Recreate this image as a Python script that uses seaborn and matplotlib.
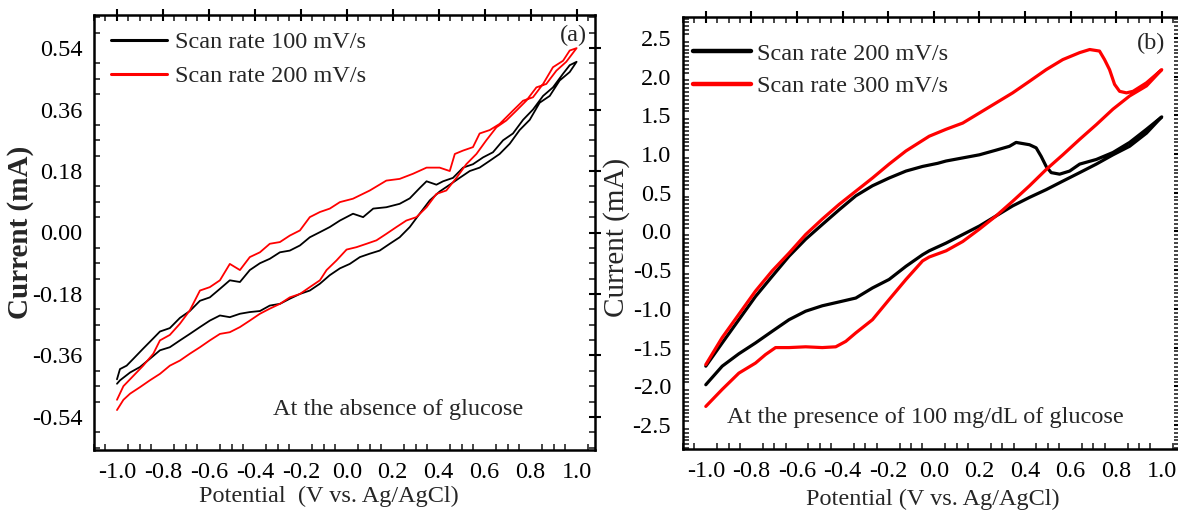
import numpy as np
import pandas as pd
import matplotlib
matplotlib.use("Agg")
import matplotlib.pyplot as plt
from matplotlib.ticker import AutoMinorLocator, FormatStrFormatter, FixedLocator
import seaborn as sns

# ---------------- data: panel (a), no glucose ----------------
a100_fwd_v = [-1.0, -0.987, -0.958, -0.929, -0.886, -0.842, -0.813, -0.77, -0.726, -0.683, -0.639,
              -0.596, -0.552, -0.509, -0.465, -0.422, -0.378, -0.335, -0.291, -0.248, -0.204, -0.161,
              -0.117, -0.074, -0.03, 0.027, 0.071, 0.115, 0.172, 0.23, 0.274, 0.317, 0.347, 0.39,
              0.419, 0.462, 0.506, 0.549, 0.593, 0.636, 0.68, 0.723, 0.767, 0.81, 0.854, 0.897,
              0.941, 0.97, 1.0]
a100_fwd_i = [-0.43, -0.40, -0.39, -0.37, -0.34, -0.31, -0.29, -0.28, -0.25, -0.23, -0.20,
              -0.19, -0.165, -0.14, -0.145, -0.11, -0.09, -0.077, -0.058, -0.053, -0.038, -0.014,
              0.001, 0.016, 0.035, 0.055, 0.045, 0.07, 0.074, 0.084, 0.10, 0.13, 0.15, 0.14,
              0.15, 0.16, 0.19, 0.20, 0.22, 0.235, 0.27, 0.29, 0.33, 0.36, 0.40, 0.425,
              0.465, 0.49, 0.50]
a100_rev_v = [1.0, 0.97, 0.926, 0.883, 0.839, 0.796, 0.752, 0.709, 0.665, 0.622, 0.578, 0.535,
              0.491, 0.448, 0.404, 0.361, 0.317, 0.274, 0.23, 0.187, 0.143, 0.1, 0.057, 0.013,
              -0.03, -0.074, -0.117, -0.161, -0.204, -0.248, -0.291, -0.335, -0.378, -0.422,
              -0.465, -0.509, -0.552, -0.596, -0.639, -0.683, -0.726, -0.77, -0.813, -0.857,
              -0.9, -0.943, -0.987, -1.0]
a100_rev_i = [0.50, 0.47, 0.445, 0.40, 0.38, 0.33, 0.30, 0.26, 0.23, 0.21, 0.19, 0.18,
              0.16, 0.14, 0.12, 0.094, 0.055, 0.016, -0.014, -0.033, -0.053, -0.062, -0.072, -0.092,
              -0.105, -0.125, -0.15, -0.17, -0.18, -0.194, -0.209, -0.214, -0.23, -0.233,
              -0.238, -0.248, -0.243, -0.258, -0.277, -0.297, -0.316, -0.336, -0.345, -0.37,
              -0.394, -0.41, -0.433, -0.443]

a200_fwd_v = [-1.0, -0.972, -0.929, -0.886, -0.842, -0.813, -0.77, -0.726, -0.683, -0.639, -0.596,
              -0.552, -0.509, -0.465, -0.422, -0.378, -0.335, -0.291, -0.248, -0.204, -0.161,
              -0.117, -0.074, -0.03, 0.027, 0.1, 0.172, 0.23, 0.288, 0.347, 0.404, 0.448, 0.47,
              0.506, 0.549, 0.578, 0.622, 0.665, 0.723, 0.767, 0.81, 0.854, 0.897, 0.941, 0.97, 1.0]
a200_fwd_i = [-0.49, -0.45, -0.42, -0.39, -0.355, -0.316, -0.30, -0.267, -0.228, -0.17, -0.16,
              -0.14, -0.092, -0.11, -0.072, -0.058, -0.033, -0.028, -0.009, 0.006, 0.045,
              0.06, 0.07, 0.089, 0.099, 0.123, 0.152, 0.157, 0.172, 0.19, 0.19, 0.18, 0.23,
              0.24, 0.25, 0.29, 0.30, 0.318, 0.357, 0.386, 0.396, 0.435, 0.484, 0.503, 0.533, 0.54]
a200_rev_v = [1.0, 0.955, 0.912, 0.868, 0.825, 0.781, 0.738, 0.694, 0.651, 0.607, 0.564, 0.52,
              0.477, 0.433, 0.39, 0.347, 0.303, 0.259, 0.216, 0.172, 0.129, 0.086, 0.042, -0.001,
              -0.045, -0.088, -0.117, -0.161, -0.204, -0.248, -0.291, -0.335, -0.378, -0.422,
              -0.465, -0.509, -0.552, -0.596, -0.639, -0.683, -0.726, -0.77, -0.813, -0.857,
              -0.9, -0.943, -0.972, -1.0]
a200_rev_i = [0.54, 0.50, 0.474, 0.435, 0.425, 0.386, 0.357, 0.328, 0.308, 0.27, 0.23, 0.20,
              0.16, 0.123, 0.113, 0.074, 0.045, 0.035, 0.016, -0.004, -0.023, -0.033, -0.043, -0.05,
              -0.082, -0.11, -0.14, -0.16, -0.18, -0.19, -0.209, -0.223, -0.238, -0.258,
              -0.277, -0.292, -0.297, -0.316, -0.336, -0.355, -0.375, -0.39, -0.414, -0.433,
              -0.453, -0.472, -0.49, -0.52]

# ---------------- data: panel (b), 100 mg/dL glucose ----------------
b200_fwd_v = [-1.0, -0.928, -0.855, -0.782, -0.709, -0.635, -0.562, -0.489, -0.415, -0.342,
              -0.269, -0.196, -0.122, -0.049, 0.017, 0.054, 0.127, 0.2, 0.273, 0.332, 0.361,
              0.42, 0.449, 0.471, 0.493, 0.515, 0.552, 0.596, 0.64, 0.713, 0.786, 0.859, 0.933, 1.0]
b200_fwd_i = [-1.74, -1.44, -1.14, -0.84, -0.58, -0.32, -0.10, 0.09, 0.28, 0.46,
              0.59, 0.69, 0.78, 0.84, 0.88, 0.91, 0.95, 0.99, 1.05, 1.10, 1.15,
              1.12, 1.08, 0.97, 0.84, 0.76, 0.74, 0.78, 0.87, 0.93, 1.02, 1.15, 1.32, 1.48]
b200_rev_v = [1.0, 0.933, 0.859, 0.786, 0.713, 0.64, 0.566, 0.493, 0.42, 0.346, 0.273, 0.2,
              0.127, 0.054, -0.02, -0.049, -0.122, -0.196, -0.269, -0.342, -0.415, -0.489,
              -0.562, -0.635, -0.709, -0.782, -0.855, -0.928, -1.0]
b200_rev_i = [1.48, 1.27, 1.10, 0.99, 0.87, 0.76, 0.65, 0.54, 0.44, 0.33, 0.20, 0.07,
              -0.04, -0.15, -0.25, -0.30, -0.45, -0.62, -0.73, -0.86, -0.91, -0.96,
              -1.03, -1.14, -1.29, -1.44, -1.58, -1.74, -1.98]

b300_fwd_v = [-1.0, -0.928, -0.855, -0.782, -0.709, -0.635, -0.562, -0.489, -0.415, -0.342,
              -0.269, -0.196, -0.122, -0.02, 0.054, 0.127, 0.2, 0.273, 0.346, 0.42, 0.493,
              0.566, 0.64, 0.684, 0.727, 0.749, 0.771, 0.793, 0.815, 0.845, 0.874, 0.933, 1.0]
b300_fwd_i = [-1.72, -1.37, -1.07, -0.77, -0.51, -0.28, -0.04, 0.16, 0.35, 0.52,
              0.69, 0.87, 1.04, 1.23, 1.32, 1.40, 1.53, 1.66, 1.79, 1.94, 2.09,
              2.22, 2.31, 2.35, 2.33, 2.22, 2.09, 1.90, 1.81, 1.79, 1.81, 1.92, 2.09]
b300_rev_v = [1.0, 0.933, 0.859, 0.786, 0.713, 0.64, 0.566, 0.493, 0.42, 0.346, 0.273, 0.2,
              0.127, 0.054, -0.02, -0.049, -0.122, -0.196, -0.269, -0.342, -0.386, -0.43,
              -0.489, -0.562, -0.635, -0.694, -0.738, -0.782, -0.855, -0.928, -1.0]
b300_rev_i = [2.09, 1.88, 1.75, 1.58, 1.38, 1.19, 0.99, 0.80, 0.59, 0.39, 0.20, 0.03,
              -0.13, -0.25, -0.33, -0.38, -0.62, -0.88, -1.14, -1.31, -1.42, -1.49,
              -1.50, -1.49, -1.50, -1.50, -1.59, -1.70, -1.83, -2.04, -2.26]

labels_a = ["Scan rate 100 mV/s", "Scan rate 200 mV/s"]
labels_b = ["Scan rate 200 mV/s", "Scan rate 300 mV/s"]
x_ticks = [-1.0, -0.8, -0.6, -0.4, -0.2, 0.0, 0.2, 0.4, 0.6, 0.8, 1.0]
y_ticks_a = [-0.54, -0.36, -0.18, 0.0, 0.18, 0.36, 0.54]
y_ticks_b = [-2.5, -2.0, -1.5, -1.0, -0.5, 0.0, 0.5, 1.0, 1.5, 2.0, 2.5]


def loop_frame(names, branches):
    """Join forward and reverse sweeps of each scan into one ordered loop."""
    rows = []
    for name, (fv, fi, rv, ri) in zip(names, branches):
        v = list(fv) + list(rv)
        i = list(fi) + list(ri)
        rows.append(pd.DataFrame({"Potential": v, "Current": i, "Scan": name}))
    return pd.concat(rows, ignore_index=True)


df_a = loop_frame(labels_a, [(a100_fwd_v, a100_fwd_i, a100_rev_v, a100_rev_i),
                             (a200_fwd_v, a200_fwd_i, a200_rev_v, a200_rev_i)])
df_b = loop_frame(labels_b, [(b200_fwd_v, b200_fwd_i, b200_rev_v, b200_rev_i),
                             (b300_fwd_v, b300_fwd_i, b300_rev_v, b300_rev_i)])

sns.set_style("white")
plt.rcParams["font.family"] = ["Liberation Serif", "DejaVu Serif"]
plt.rcParams["axes.unicode_minus"] = False
FS = 17.5
FS_YLAB = 21

fig = plt.figure(figsize=(11.78, 5.14), dpi=100)
W, H = 1178, 514
ax_a = fig.add_axes([94 / W, 1 - 450 / H, 501 / W, 435 / H])
ax_b = fig.add_axes([683 / W, 1 - 449 / H, 497 / W, 432 / H])

sns.lineplot(data=df_a, x="Potential", y="Current", hue="Scan", units="Scan",
             estimator=None, sort=False, palette=["black", "#ff0000"],
             linewidth=1.3, ax=ax_a)
sns.lineplot(data=df_b, x="Potential", y="Current", hue="Scan", units="Scan",
             estimator=None, sort=False, palette=["black", "#ff0000"],
             linewidth=2.3, ax=ax_b)


def style_axes(ax, yticks, ylim, yfmt, ysub):
    ax.set_xlim(-1.1, 1.08)
    ax.set_ylim(*ylim)
    ax.xaxis.set_major_locator(FixedLocator(x_ticks))
    ax.yaxis.set_major_locator(FixedLocator(yticks))
    ax.xaxis.set_major_formatter(FormatStrFormatter("%.1f"))
    ax.yaxis.set_major_formatter(FormatStrFormatter(yfmt))
    ax.xaxis.set_minor_locator(AutoMinorLocator(4))
    ax.yaxis.set_minor_locator(AutoMinorLocator(ysub))
    ax.tick_params(which="major", direction="inout", length=9, width=1.5,
                   top=True, right=True, labelsize=FS, colors="black", pad=4)
    ax.tick_params(which="minor", direction="in", length=4, width=1.2,
                   top=True, right=True, left=True, bottom=True)
    for s in ax.spines.values():
        s.set_visible(True)
        s.set_linewidth(1.8)
        s.set_color("black")
    ax.grid(False)


style_axes(ax_a, y_ticks_a, (-0.637, 0.637), "%.2f", 4)
style_axes(ax_b, y_ticks_b, (-2.81, 2.77), "%.1f", 10)

ax_a.set_xlabel("Potential  (V vs. Ag/AgCl)", fontsize=FS)
ax_a.set_ylabel("Current (mA)", fontsize=FS_YLAB, fontweight="bold")
ax_a.xaxis.set_label_coords(0.469, -0.083)
ax_a.yaxis.set_label_coords(-0.12, 0.5)

ax_b.set_xlabel("Potential (V vs. Ag/AgCl)", fontsize=FS)
ax_b.set_ylabel("Current (mA)", fontsize=FS_YLAB)
ax_b.xaxis.set_label_coords(0.503, -0.093)
ax_b.yaxis.set_label_coords(-0.106, 0.49)

fig.text(573 / W, 1 - 35 / H, "(a)", fontsize=FS, ha="center", va="center")
fig.text(1151 / W, 1 - 43 / H, "(b)", fontsize=FS, ha="center", va="center")
fig.text(398 / W, 1 - 410 / H, "At the absence of glucose", fontsize=FS,
         ha="center", va="center")
fig.text(925 / W, 1 - 417 / H, "At the presence of 100 mg/dL of glucose", fontsize=FS,
         ha="center", va="center")

leg_a = ax_a.legend(loc="upper left", bbox_to_anchor=(0.034, 0.963), frameon=False,
                    fontsize=FS, handlelength=2.3, handletextpad=0.33,
                    labelspacing=0.5, borderpad=0, borderaxespad=0)
for ln in leg_a.get_lines():
    ln.set_linewidth(2.2)
leg_b = ax_b.legend(loc="upper left", bbox_to_anchor=(0.02, 0.94), frameon=False,
                    fontsize=FS, handlelength=2.4, handletextpad=0.25,
                    labelspacing=0.42, borderpad=0, borderaxespad=0)
for ln in leg_b.get_lines():
    ln.set_linewidth(3.2)

fig.savefig("out.png", dpi=100)
